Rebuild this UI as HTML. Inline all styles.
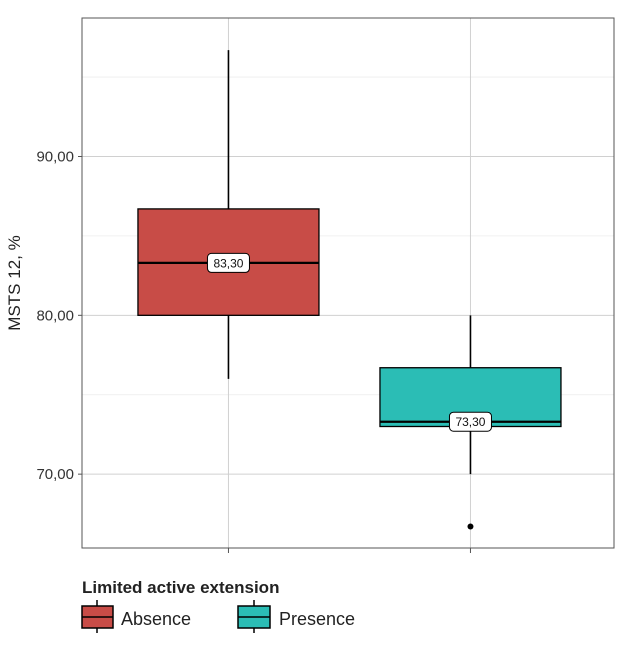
<!DOCTYPE html>
<html><head><meta charset="utf-8"><style>
html,body{margin:0;padding:0;background:#fff;}
svg{display:block;font-family:"Liberation Sans","DejaVu Sans",sans-serif;}
</style></head><body>
<svg id="chart" width="638" height="651">
<rect x="82" y="18" width="532" height="530" fill="#fff"/>
<g id="grid"></g>
<g id="boxes"></g>
<rect x="82" y="18" width="532" height="530" fill="none" stroke="#555" stroke-width="1"/>
<g id="axes"></g>
<text x="20" y="283" font-size="17" fill="#222" text-anchor="middle" transform="rotate(-90 20 283)">MSTS 12, %</text>
<g>
<text x="82" y="593" font-size="17" font-weight="bold" fill="#222">Limited active extension</text>
<g>
<line x1="97" y1="600" x2="97" y2="633" stroke="#000" stroke-width="1.5"/>
<rect x="82" y="606" width="31" height="22" fill="#c84c47" stroke="#000" stroke-width="1.5"/>
<line x1="82" y1="617" x2="113" y2="617" stroke="#000" stroke-width="1.5"/>
<text x="121" y="625" font-size="18" fill="#222">Absence</text>
</g>
<g>
<line x1="254" y1="600" x2="254" y2="633" stroke="#000" stroke-width="1.5"/>
<rect x="238" y="606" width="32" height="22" fill="#2bbdb5" stroke="#000" stroke-width="1.5"/>
<line x1="238" y1="617" x2="270" y2="617" stroke="#000" stroke-width="1.5"/>
<text x="279" y="625" font-size="18" fill="#222">Presence</text>
</g>
</g>
</svg>
<script>
const categories = ["Absence","Presence"];
const q1 = [80.0, 73.0];
const medians = [83.3, 73.3];
const q3 = [86.7, 76.7];
const whiskerLow = [76.0, 70.0];
const whiskerHigh = [96.7, 80.0];
const outliers = [[], [66.7]];
const medianLabels = ["83,30","73,30"];
const yTicks = [70, 80, 90];
const yTickLabels = ["70,00","80,00","90,00"];
const colors = ["#c84c47","#2bbdb5"];

const NS = "http://www.w3.org/2000/svg";
const pTop = 18, pBottom = 548, pLeft = 82, pRight = 614;
const yMin = 65.35, yMax = 98.72;
function yS(v){ return pBottom - (v - yMin) / (yMax - yMin) * (pBottom - pTop); }
function xc(i){ return pLeft + (pRight-pLeft)*(0.2753 + i*0.4549); }
function mk(tag, attrs, parent){ const e=document.createElementNS(NS,tag); for(const k in attrs) e.setAttribute(k,attrs[k]); parent.appendChild(e); return e; }

const grid = document.getElementById("grid");
const boxes = document.getElementById("boxes");
const axes = document.getElementById("axes");

for (let k=0;k<yTicks.length;k++){
  const t=yTicks[k];
  const g=mk("line",{x1:pLeft,x2:pRight,y1:yS(t),y2:yS(t),stroke:"#d0d0d0","stroke-width":1},grid);
  
  
  const m=t+5;
  if (m < yMax){
    const gm=mk("line",{x1:pLeft,x2:pRight,y1:yS(m),y2:yS(m),stroke:"#ececec","stroke-width":0.8},grid);
    
    
  }
  const tk=mk("line",{x1:pLeft-4,x2:pLeft,y1:yS(t),y2:yS(t),stroke:"#555"},axes);
  
  
  const tl=mk("text",{x:pLeft-8,y:yS(t)+5,"font-size":15,fill:"#333","text-anchor":"end"},axes);
  tl.textContent=yTickLabels[k];
  
  
}
if (yTicks[0]-5 > yMin){
  const gm=mk("line",{x1:pLeft,x2:pRight,y1:yS(yTicks[0]-5),y2:yS(yTicks[0]-5),stroke:"#ececec"},grid);
  
  
}

const halfW = 90.5;
categories.forEach((c,i)=>{
  const cx = xc(i);
  const vg=mk("line",{x1:cx,x2:cx,y1:pTop,y2:pBottom,stroke:"#d0d0d0"},grid);
  
  
  const tk=mk("line",{x1:cx,x2:cx,y1:pBottom,y2:pBottom+5,stroke:"#555"},axes);
  
  

  const g=mk("g",{},boxes);
  
  
  const w=mk("line",{x1:cx,x2:cx,y1:yS(whiskerHigh[i]),y2:yS(whiskerLow[i]),stroke:"#000","stroke-width":1.6},g);
  
  
  const r=mk("rect",{x:cx-halfW,y:yS(q3[i]),width:2*halfW,height:yS(q1[i])-yS(q3[i]),fill:colors[i],stroke:"#000","stroke-width":1.3},g);
  
  
  const md=mk("line",{x1:cx-halfW,x2:cx+halfW,y1:yS(medians[i]),y2:yS(medians[i]),stroke:"#000","stroke-width":2.2},g);
  
  
  const lb=mk("rect",{x:cx-21,y:yS(medians[i])-9.5,width:42,height:19,rx:4,fill:"#fff",stroke:"#000","stroke-width":1},g);
  
  
  const lt=mk("text",{x:cx,y:yS(medians[i])+4.5,"font-size":12,fill:"#111","text-anchor":"middle"},g);
  lt.textContent=medianLabels[i];
  
  
  outliers[i].forEach(o=>{
    const p=mk("circle",{cx:cx,cy:yS(o),r:3,fill:"#000"},g);
    
    
  });
});
</script>
</body></html>
